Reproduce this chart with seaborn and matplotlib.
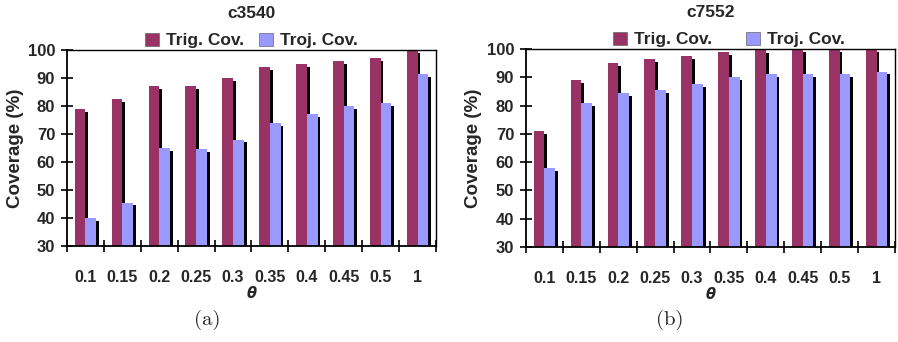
import matplotlib
matplotlib.use("Agg")
import matplotlib.pyplot as plt
import matplotlib.patheffects as pe
import seaborn as sns
import pandas as pd

thetas = ["0.1", "0.15", "0.2", "0.25", "0.3", "0.35", "0.4", "0.45", "0.5", "1"]
series_names = ["Trig. Cov.", "Troj. Cov."]
c3540_trig = [79, 82.5, 87, 87, 90, 94, 95, 96, 97, 100]
c3540_troj = [40, 45.5, 65, 64.5, 68, 74, 77, 80, 81, 91.5]
c7552_trig = [71, 89, 95, 96.5, 97.5, 99, 99.5, 100, 100, 100]
c7552_troj = [58, 81, 84.5, 85.5, 87.5, 90, 91, 91, 91, 92]
titles = ["c3540", "c7552"]
captions = ["(a)", "(b)"]
y_ticks = [30, 40, 50, 60, 70, 80, 90, 100]

colors = ["#993366", "#9999FF"]

sns.set_style("white")
plt.rcParams['font.family'] = ['Liberation Sans', 'DejaVu Sans']

fig = plt.figure(figsize=(8.98, 3.42), dpi=100)
ax_pos = [[0.0746, 0.2807, 0.4109, 0.5733], [0.5857, 0.2778, 0.4110, 0.5789]]

def make_df(trig, troj):
    rows = []
    for t, a, b in zip(thetas, trig, troj):
        rows.append({"theta": t, "series": series_names[0], "cov": a})
        rows.append({"theta": t, "series": series_names[1], "cov": b})
    return pd.DataFrame(rows)

datasets = [(c3540_trig, c3540_troj), (c7552_trig, c7552_troj)]
legend_x = [0.5, 0.55]
colspace = [0.9, 2.0]
caption_x = [0.231, 0.746]

for i, (trig, troj) in enumerate(datasets):
    ax = fig.add_axes(ax_pos[i])
    df = make_df(trig, troj)
    sns.barplot(data=df, x="theta", y="cov", hue="series", palette=colors,
                order=thetas, hue_order=series_names, width=0.58,
                saturation=1, ax=ax, legend=True)
    for p in ax.patches:
        p.set_path_effects([pe.SimplePatchShadow(offset=(2.0, -2.0),
                                                 shadow_rgbFace='black', alpha=1.0),
                            pe.Normal()])
        p.set_edgecolor('none')
    ax.set_ylim(30, 100)
    ax.set_xlim(-0.5, len(thetas) - 0.5)
    ax.set_yticks(y_ticks)
    ax.set_yticklabels([str(v) for v in y_ticks], fontsize=12, fontweight='bold')
    ax.set_xticks(range(len(thetas)))
    ax.set_xticklabels(thetas, fontsize=11.5, fontweight='bold')
    ax.set_xticks([k - 0.5 for k in range(len(thetas) + 1)], minor=True)
    ax.tick_params(axis='x', which='major', bottom=True, length=0, pad=17)
    ax.tick_params(axis='x', which='minor', bottom=True, direction='inout',
                   length=9, width=1.2, color='black')
    ax.tick_params(axis='y', left=True, direction='inout', length=9, width=1.2,
                   color='black', pad=4)
    for s in ax.spines.values():
        s.set_color('black')
        s.set_linewidth(1.0)
    ax.spines['left'].set_linewidth(1.3)
    ax.spines['bottom'].set_linewidth(1.3)
    ax.set_ylabel("Coverage (%)", fontsize=13.5, fontweight='bold', labelpad=3)
    ax.set_xlabel("θ", fontsize=10.5, fontweight='bold', fontstyle='italic',
                  family=['DejaVu Sans'], labelpad=1)
    ax.set_title(titles[i], fontsize=12.5, fontweight='bold', pad=23)
    leg = ax.legend(loc='lower center', bbox_to_anchor=(legend_x[i], 1.0), ncol=2,
                    frameon=False, prop={'weight': 'bold', 'size': 12.5},
                    handlelength=0.8, handleheight=0.8, handletextpad=0.4,
                    columnspacing=colspace[i], borderaxespad=0.0, borderpad=0.1)
    for h in leg.legend_handles:
        h.set_path_effects([])
        h.set_edgecolor('#666666')
        h.set_linewidth(0.5)
    fig.text(caption_x[i], 0.064, captions[i], fontsize=15,
             family='cmr10', ha='center', va='center')

fig.savefig("out.png", dpi=100)
